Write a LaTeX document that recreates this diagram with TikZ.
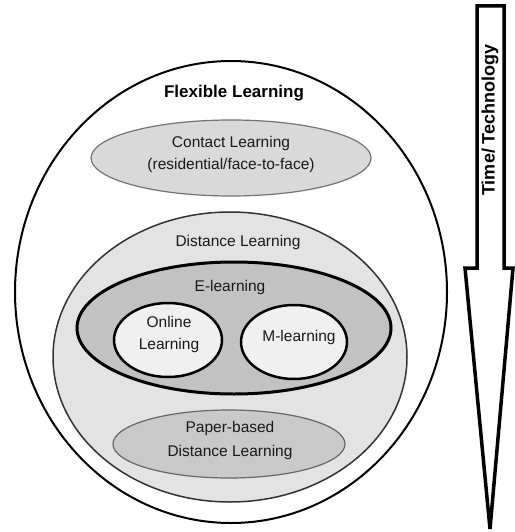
\documentclass[tikz,border=0pt]{standalone}
\usepackage{fontspec}
\setmainfont{Liberation Sans}
\usetikzlibrary{shapes.geometric}

\begin{document}
\begin{tikzpicture}[x=1pt,y=-1pt,
  blob/.style={ellipse,inner sep=0pt},
  lbl/.style={font=\fontsize{15.5}{22}\selectfont,text=black!90,align=center,inner sep=0pt}]
\useasboundingbox (0,0) rectangle (514,532);
\fill[white] (0,0) rectangle (514,532);
% nested learning modes
\node[blob,draw=black,line width=2pt,fill=white,minimum width=432pt,minimum height=462pt] (flex) at (231,292) {};
\node[blob,draw=black!55,line width=1.2pt,fill=black!15,minimum width=280pt,minimum height=76pt] (contact) at (231,158) {};
\node[blob,draw=black!80,line width=1.5pt,fill=black!11,minimum width=354pt,minimum height=290pt] (dist) at (230,357) {};
\node[blob,draw=black,line width=3pt,fill=black!24,minimum width=314pt,minimum height=132pt] (elearn) at (234,328) {};
\node[blob,draw=black,line width=2.5pt,fill=black!6,minimum width=108pt,minimum height=74pt] (online) at (168,340) {};
\node[blob,draw=black,line width=2.5pt,fill=black!6,minimum width=106pt,minimum height=74pt] (mlearn) at (294,342) {};
\node[blob,draw=black!60,line width=1.2pt,fill=black!21,minimum width=232pt,minimum height=68pt] (paper) at (229,444) {};
% labels
\node[lbl,font=\bfseries\fontsize{17}{20}\selectfont,text=black] (flexT) at (234,93) {Flexible Learning};
\node[lbl] (contactT) at (231,154) {Contact Learning\\(residential/face-to-face)};
\node[lbl] (distT) at (238,242) {Distance Learning};
\node[lbl] (elearnT) at (230,287) {E-learning};
\node[lbl] (onlineT) at (169,334) {Online\\Learning};
\node[lbl] (mlearnT) at (299,337) {M-learning};
\node[lbl,font=\fontsize{15.5}{24}\selectfont] (paperT) at (230,440) {Paper-based\\Distance Learning};
% time arrow
\draw[line width=3.5pt] (477,6) -- (504,6) -- (504,268) -- (513,268) -- (490,529) -- (465,268) -- (477,268) -- cycle;
\node[lbl,rotate=90,font=\bfseries\fontsize{18}{20}\selectfont,text=black] (timeT) at (490,120) {Time/ Technology};
\end{tikzpicture}
\end{document}
